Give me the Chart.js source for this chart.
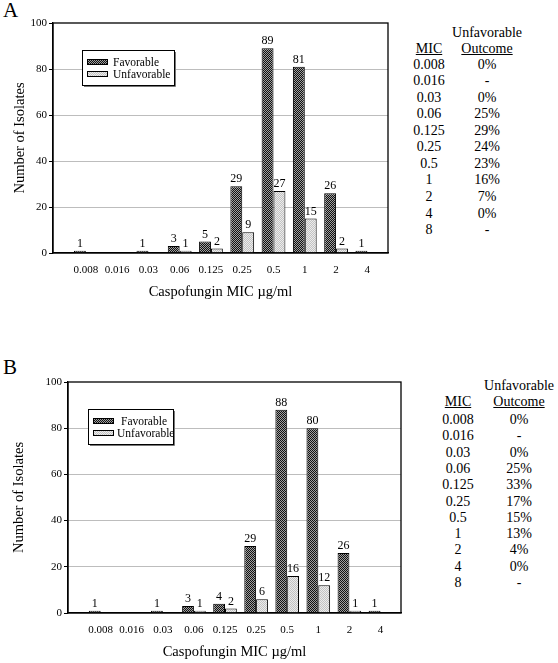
<!DOCTYPE html>
<html>
<head>
<meta charset="utf-8">
<title>Caspofungin MIC vs outcome</title>
<script src="https://cdn.jsdelivr.net/npm/chart.js@4.4.0/dist/chart.umd.min.js"></script>
<style>
    body { margin: 0; background: #fff; font-family: "Liberation Serif", "Times New Roman", serif; color: #000; }
    #page { position: relative; width: 558px; height: 663px; overflow: hidden; }
    canvas { position: absolute; left: 0; }
    .panel-letter { position: absolute; font-size: 21px; line-height: 1; }
    .cell { position: absolute; font-size: 14px; line-height: 1; white-space: nowrap; transform: translate(-50%, -50%); }
    .u { text-decoration: underline; }
</style>
</head>
<body>
<div id="page">
    <div class="panel-letter" style="left:3px;top:0px">A</div>
    <canvas id="chart-a" width="400" height="305" style="top:0px"></canvas>
    <div id="table-a"></div>

    <div class="panel-letter" style="left:3px;top:357px">B</div>
    <canvas id="chart-b" width="415" height="308" style="top:355px"></canvas>
    <div id="table-b"></div>
</div>

<script>
// ---------------- data ----------------
const chartMics = ['0.008', '0.016', '0.03', '0.06', '0.125', '0.25', '0.5', '1', '2', '4'];
const favorableA = [1, 0, 1, 3, 5, 29, 89, 81, 26, 1];
const unfavorableA = [0, 0, 0, 1, 2, 9, 27, 15, 2, 0];
const favorableB = [1, 0, 1, 3, 4, 29, 88, 80, 26, 1];
const unfavorableB = [0, 0, 0, 1, 2, 6, 16, 12, 1, 0];
const yTicks = [0, 20, 40, 60, 80, 100];

const tableMics = ['0.008', '0.016', '0.03', '0.06', '0.125', '0.25', '0.5', '1', '2', '4', '8'];
const outcomeA = ['0%', '-', '0%', '25%', '29%', '24%', '23%', '16%', '7%', '0%', '-'];
const outcomeB = ['0%', '-', '0%', '25%', '33%', '17%', '15%', '13%', '4%', '0%', '-'];

const FONT = '"Liberation Serif", "Times New Roman", serif';

// ---------------- helpers ----------------
function makePattern(ctx, base, dot) {
    const tile = document.createElement('canvas');
    tile.width = 2;
    tile.height = 2;
    const t = tile.getContext('2d');
    t.fillStyle = base;
    t.fillRect(0, 0, 2, 2);
    t.fillStyle = dot;
    t.fillRect(0, 0, 1, 1);
    t.fillRect(1, 1, 1, 1);
    return ctx.createPattern(tile, 'repeat');
}

// numbers on top of bars
const valueLabels = {
    id: 'valueLabels',
    afterDatasetsDraw(chart) {
        const ctx = chart.ctx;
        ctx.save();
        ctx.font = '12px ' + FONT;
        ctx.fillStyle = '#000';
        ctx.textAlign = 'center';
        ctx.textBaseline = 'bottom';
        chart.data.datasets.forEach((ds, di) => {
            chart.getDatasetMeta(di).data.forEach((bar, i) => {
                const v = ds.data[i].y;
                if (v > 0) ctx.fillText(String(v), bar.x, bar.y - 1);
            });
        });
        ctx.restore();
    }
};

// black frame around the plot + boxed legend inside it
const plotFrame = {
    id: 'plotFrame',
    afterDraw(chart, args, opts) {
        const { ctx, chartArea: a } = chart;
        ctx.save();
        ctx.strokeStyle = '#000';
        ctx.lineWidth = 1.3;
        ctx.strokeRect(a.left, a.top, a.right - a.left, a.bottom - a.top);

        const bx = a.left + opts.x;
        const by = a.top + opts.y;
        ctx.fillStyle = '#fff';
        ctx.fillRect(bx, by, opts.w, opts.h);
        ctx.lineWidth = 1;
        ctx.strokeRect(bx + 0.5, by + 0.5, opts.w, opts.h);
        ctx.strokeStyle = '#777';
        ctx.beginPath();
        ctx.moveTo(bx + opts.w + 1.5, by + 2);
        ctx.lineTo(bx + opts.w + 1.5, by + opts.h + 1.5);
        ctx.lineTo(bx + 2, by + opts.h + 1.5);
        ctx.stroke();

        ctx.font = '11.5px ' + FONT;
        ctx.textBaseline = 'middle';
        chart.data.datasets.forEach((ds, i) => {
            const rowY = by + opts.rows[i];
            ctx.fillStyle = ds.backgroundColor;
            ctx.fillRect(bx + 5, rowY - 3, 21, 6);
            ctx.strokeStyle = '#000';
            ctx.strokeRect(bx + 5.5, rowY - 2.5, 20, 5);
            ctx.fillStyle = '#000';
            ctx.fillText(ds.label, bx + opts.textX[i], rowY + 1);
        });
        ctx.restore();
    }
};

function makeChart(canvasId, favorable, unfavorable, layout) {
    const $canvas = document.getElementById(canvasId);
    const ctx = $canvas.getContext('2d');
    const favPattern = makePattern(ctx, '#111111', '#a0a0a0');
    const unfavPattern = makePattern(ctx, '#c2c2c2', '#ececec');

    return new Chart($canvas, {
        type: 'bar',
        data: {
            datasets: [{
                label: 'Favorable',
                data: favorable.map((v, i) => ({ x: i, y: v })),
                backgroundColor: favPattern
            }, {
                label: 'Unfavorable',
                data: unfavorable.map((v, i) => ({ x: i, y: v })),
                backgroundColor: unfavPattern
            }]
        },
        options: {
            responsive: false,
            animation: false,
            categoryPercentage: 0.76,
            barPercentage: 1.0,
            borderColor: '#000',
            borderWidth: 1,
            layout: { padding: { top: layout.top, right: layout.right, left: 0, bottom: 0 } },
            plugins: {
                legend: { display: false },
                tooltip: { enabled: false },
                plotFrame: layout.legend
            },
            scales: {
                x: {
                    type: 'linear',
                    offset: false,
                    min: -1.05,
                    max: 9.66,
                    afterBuildTicks: (scale) => { scale.ticks = chartMics.map((_, i) => ({ value: i })); },
                    afterFit: (scale) => { scale.height = layout.xHeight; },
                    grid: { display: false, drawTicks: false, offset: false },
                    border: { color: '#000', width: 1.3 },
                    ticks: {
                        autoSkip: false,
                        maxRotation: 0,
                        padding: 11,
                        color: '#000',
                        font: { family: FONT, size: 11 },
                        callback: (value) => chartMics[value]
                    },
                    title: {
                        display: true,
                        text: 'Caspofungin MIC µg/ml',
                        color: '#000',
                        font: { family: FONT, size: 14.5 },
                        padding: { top: 0, bottom: layout.xTitlePad }
                    }
                },
                y: {
                    min: 0,
                    max: 100,
                    afterBuildTicks: (scale) => { scale.ticks = yTicks.map(v => ({ value: v })); },
                    afterFit: (scale) => { scale.width = layout.yWidth; },
                    grid: {
                        color: (c) => (c.tick && (c.tick.value === 0 || c.tick.value === 100)) ? 'rgba(0,0,0,0)' : '#bdbdbd',
                        tickColor: '#000',
                        tickLength: 4,
                        lineWidth: 1
                    },
                    border: { color: '#000', width: 1.3 },
                    ticks: { padding: 2, color: '#000', font: { family: FONT, size: 11 } },
                    title: {
                        display: true,
                        text: 'Number of Isolates',
                        color: '#000',
                        font: { family: FONT, size: 14.5 },
                        padding: { top: layout.yTitlePad, bottom: 0 }
                    }
                }
            }
        },
        plugins: [valueLabels, plotFrame]
    });
}

function buildTable(elId, outcomes, pos) {
    const $table = document.getElementById(elId);
    const add = (text, x, y, cls) => {
        const d = document.createElement('div');
        d.className = 'cell' + (cls ? ' ' + cls : '');
        d.style.left = x + 'px';
        d.style.top = y + 'px';
        d.textContent = text;
        $table.appendChild(d);
    };
    add('Unfavorable', pos.outX, pos.headY);
    add('MIC', pos.micX, pos.headY + 15.5, 'u');
    add('Outcome', pos.outX, pos.headY + 15.5, 'u');
    tableMics.forEach((mic, i) => {
        const y = pos.rowY + i * pos.rowStep;
        add(mic, pos.micX, y);
        add(outcomes[i], pos.outX, y);
    });
}

// ---------------- render ----------------
makeChart('chart-a', favorableA, unfavorableA, {
    top: 23, right: 12, xHeight: 52, yWidth: 53, xTitlePad: 4, yTitlePad: 11,
    legend: { x: 29, y: 27, w: 92, h: 35, rows: [12, 24], textX: [31, 31] }
});
makeChart('chart-b', favorableB, unfavorableB, {
    top: 27, right: 14, xHeight: 50, yWidth: 68, xTitlePad: 2, yTitlePad: 10,
    legend: { x: 20, y: 27, w: 85, h: 35, rows: [12, 24], textX: [33, 29] }
});

buildTable('table-a', outcomeA, { micX: 429, outX: 487, headY: 33, rowY: 64.5, rowStep: 16.57 });
buildTable('table-b', outcomeB, { micX: 458, outX: 519, headY: 386, rowY: 420, rowStep: 16.3 });
</script>
</body>
</html>
